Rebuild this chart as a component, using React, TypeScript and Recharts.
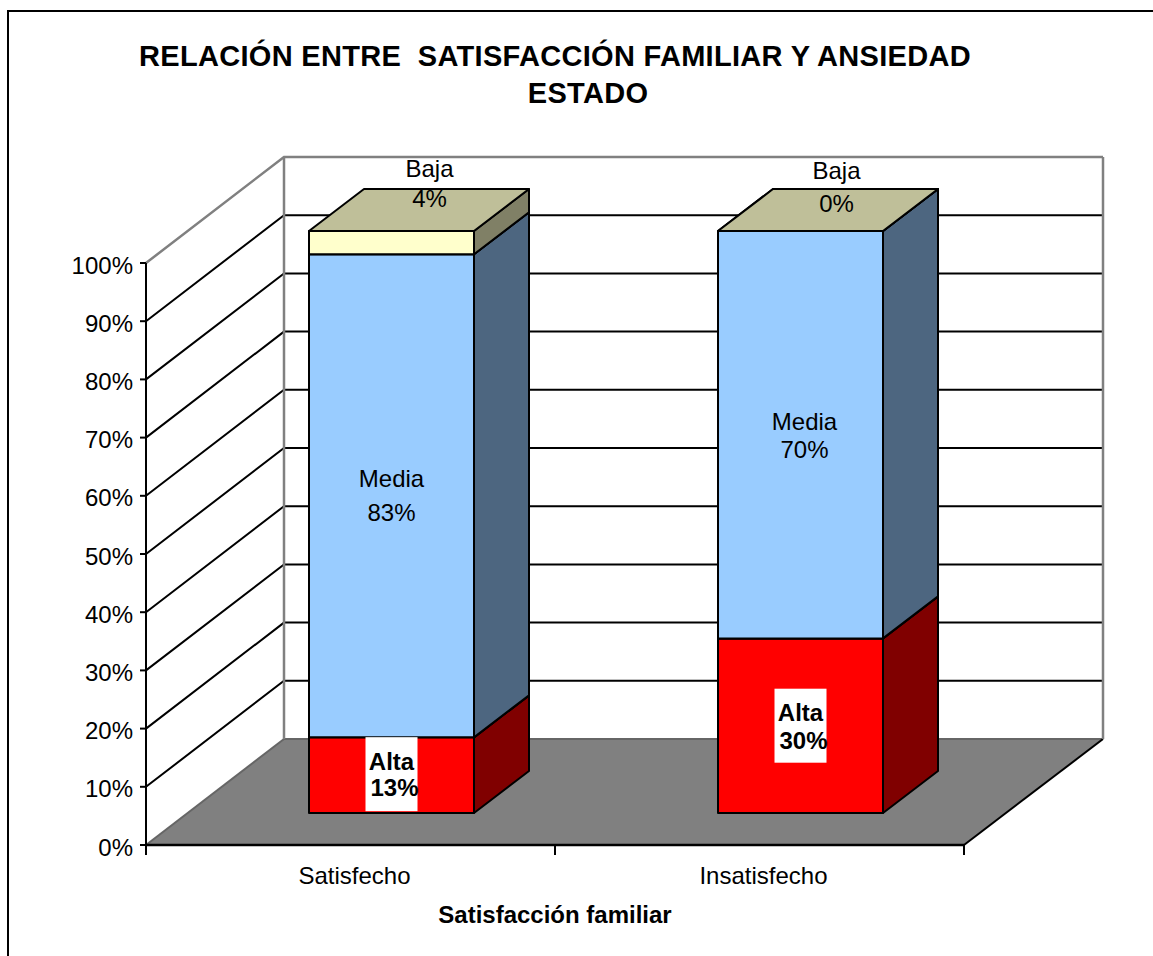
import { Bar, BarChart, CartesianGrid, LabelList, XAxis, YAxis } from "recharts";

const categories = ["Satisfecho", "Insatisfecho"];
const alta = [13, 30];
const media = [83, 70];
const baja = [4, 0];
const yTicks = [0, 10, 20, 30, 40, 50, 60, 70, 80, 90, 100];

const data = categories.map((name, i) => ({
  name,
  Alta: alta[i],
  Media: media[i],
  Baja: baja[i],
}));

const FONT = "'Liberation Sans', Arial, sans-serif";
const WIDTH = 1153;
const HEIGHT = 956;

// depth of the floor, and of the boxes standing on it
const WALL_DX = 138;
const WALL_DY = -106;
const BAR_DX = 41;
const BAR_DY = -32;
const BOX_DX = 55;
const BOX_DY = -42;

const colors = {
  Alta: { front: "#ff0000", side: "#800000", top: "#bf0000" },
  Media: { front: "#99ccff", side: "#4d6680", top: "#7399bf" },
  Baja: { front: "#ffffcc", side: "#808066", top: "#bfbf99" },
};

// hand moved labels of the original chart
const labelPlacement: Record<string, { dx: number; dy: number; gap: number }[]> = {
  Alta: [
    { dx: 0, dy: -1, gap: 26 },
    { dx: 0, dy: 0, gap: 28 },
  ],
  Media: [
    { dx: 0, dy: -1, gap: 34 },
    { dx: 4, dy: 0, gap: 28 },
  ],
  Baja: [
    { dx: 38, dy: -60, gap: 30 },
    { dx: 36, dy: -45, gap: 33 },
  ],
};

function points(list: number[][]) {
  return list.map((p) => p.join(",")).join(" ");
}

function Box3D(props: any) {
  const { x, y, width, height, tone } = props;
  const l = x + BAR_DX;
  const r = l + width;
  const t = y + BAR_DY;
  const b = t + height;
  const line = { stroke: "#000", strokeWidth: 2, strokeLinejoin: "round" as const };
  return (
    <g>
      <rect x={l} y={t} width={width} height={height} fill={tone.front} {...line} />
      <polygon
        points={points([[r, t], [r + BOX_DX, t + BOX_DY], [r + BOX_DX, b + BOX_DY], [r, b]])}
        fill={tone.side}
        {...line}
      />
      <polygon
        points={points([[l, t], [l + BOX_DX, t + BOX_DY], [r + BOX_DX, t + BOX_DY], [r, t]])}
        fill={tone.top}
        {...line}
      />
    </g>
  );
}

function BarLabel(props: any) {
  const { x, y, width, height, index, series, bold, boxed, values } = props;
  const place = labelPlacement[series][index];
  const cx = x + BAR_DX + width / 2 + place.dx;
  const cy = y + BAR_DY + height / 2 + place.dy;
  const style = { fontFamily: FONT, fontSize: 24, fontWeight: bold ? 700 : 400 };
  return (
    <g>
      {boxed && <rect x={cx - 26} y={cy - 37} width={52} height={74} fill="#fff" />}
      <text x={cx} y={cy - place.gap / 2 + 9} textAnchor="middle" fill="#000" style={style}>
        {series}
      </text>
      <text x={cx + (bold ? 3 : 0)} y={cy + place.gap / 2 + 9} textAnchor="middle" fill="#000" style={style}>
        {values[index]}%
      </text>
    </g>
  );
}

// walls, floor and gridlines all hang off the library's horizontal grid lines
function WallRow(props: any) {
  const { x1, x2, y1, y: plotTop, height: plotH } = props;
  const backY = y1 + WALL_DY;
  const backL = x1 + WALL_DX;
  const backR = x2 + WALL_DX + 1;
  const isTop = Math.abs(y1 - plotTop) < 1;
  const isBottom = Math.abs(y1 - (plotTop + plotH)) < 1;
  if (isBottom) {
    return (
      <g key={`row-${y1}`}>
        <polygon points={points([[x1, y1], [backL, backY], [backR, backY], [x2, y1]])} fill="#808080" />
        <line x1={x1} y1={y1} x2={backL} y2={backY} stroke="#666" strokeWidth={2} />
        <line x1={backL} y1={backY} x2={backR} y2={backY} stroke="#666" strokeWidth={2} />
        <line x1={x2} y1={y1} x2={backR} y2={backY} stroke="#000" strokeWidth={2} />
      </g>
    );
  }
  if (isTop) {
    return (
      <g key={`row-${y1}`} stroke="#808080" strokeWidth={2.5} fill="none">
        <polyline points={points([[x1, y1], [backL, backY], [backR, backY]])} />
        <line x1={backL} y1={backY} x2={backL} y2={backY + plotH} />
        <line x1={backR} y1={backY} x2={backR} y2={backY + plotH} />
      </g>
    );
  }
  return (
    <polyline
      key={`row-${y1}`}
      points={points([[x1, y1], [backL, backY], [backR, backY]])}
      fill="none"
      stroke="#000"
      strokeWidth={2}
    />
  );
}

function CategoryTick(props: any) {
  const { x, y, payload, index } = props;
  const half = 204.5;
  const axisY = y - 8;
  return (
    <g>
      <line x1={x - half} y1={axisY} x2={x - half} y2={axisY + 10} stroke="#000" strokeWidth={2} />
      {index === categories.length - 1 && (
        <line x1={x + half} y1={axisY} x2={x + half} y2={axisY + 10} stroke="#000" strokeWidth={2} />
      )}
      <text
        x={x + 4}
        y={axisY + 39}
        textAnchor="middle"
        fill="#000"
        style={{ fontFamily: FONT, fontSize: 24 }}
      >
        {payload.value}
      </text>
    </g>
  );
}

export default function App() {
  return (
    <div style={{ position: "absolute", left: 0, top: 0, width: WIDTH, height: HEIGHT, background: "#fff" }}>
      <BarChart
        width={WIDTH}
        height={HEIGHT}
        data={data}
        margin={{ top: 263, right: 189, bottom: 0, left: 0 }}
        barSize={165}
      >
        <rect x={8} y={11} width={WIDTH + 20} height={HEIGHT + 20} fill="none" stroke="#000" strokeWidth={2} />
        <text
          x={555}
          y={66}
          textAnchor="middle"
          fill="#000"
          style={{ fontFamily: FONT, fontSize: 29, fontWeight: 700, letterSpacing: 0.3, whiteSpace: "pre" }}
        >
          {"RELACIÓN ENTRE  SATISFACCIÓN FAMILIAR Y ANSIEDAD"}
        </text>
        <text
          x={588}
          y={103}
          textAnchor="middle"
          fill="#000"
          style={{ fontFamily: FONT, fontSize: 29, fontWeight: 700, letterSpacing: 0.3 }}
        >
          ESTADO
        </text>
        <CartesianGrid vertical={false} horizontal={(p: any) => <WallRow {...p} />} />
        <XAxis
          dataKey="name"
          height={111}
          interval={0}
          tickLine={false}
          axisLine={{ stroke: "#000", strokeWidth: 2.5 }}
          tick={<CategoryTick />}
          label={{
            value: "Satisfacción familiar",
            position: "insideBottom",
            offset: 33,
            fill: "#000",
            style: { fontFamily: FONT, fontSize: 24, fontWeight: 700 },
          }}
        />
        <YAxis
          width={146}
          domain={[0, 100]}
          ticks={yTicks}
          interval={0}
          tickFormatter={(v: number) => `${v}%`}
          tickSize={6}
          tickMargin={7}
          tickLine={{ stroke: "#000", strokeWidth: 2 }}
          axisLine={{ stroke: "#000", strokeWidth: 2 }}
          tick={{ fill: "#000", fontFamily: FONT, fontSize: 24, dy: 2 }}
        />
        <Bar dataKey="Alta" stackId="a" isAnimationActive={false} shape={(p: any) => <Box3D {...p} tone={colors.Alta} />}>
          <LabelList
            dataKey="Alta"
            content={(p: any) => <BarLabel {...p} series="Alta" bold boxed values={alta} />}
          />
        </Bar>
        <Bar dataKey="Media" stackId="a" isAnimationActive={false} shape={(p: any) => <Box3D {...p} tone={colors.Media} />}>
          <LabelList dataKey="Media" content={(p: any) => <BarLabel {...p} series="Media" values={media} />} />
        </Bar>
        <Bar dataKey="Baja" stackId="a" isAnimationActive={false} shape={(p: any) => <Box3D {...p} tone={colors.Baja} />}>
          <LabelList dataKey="Baja" content={(p: any) => <BarLabel {...p} series="Baja" values={baja} />} />
        </Bar>
      </BarChart>
    </div>
  );
}
